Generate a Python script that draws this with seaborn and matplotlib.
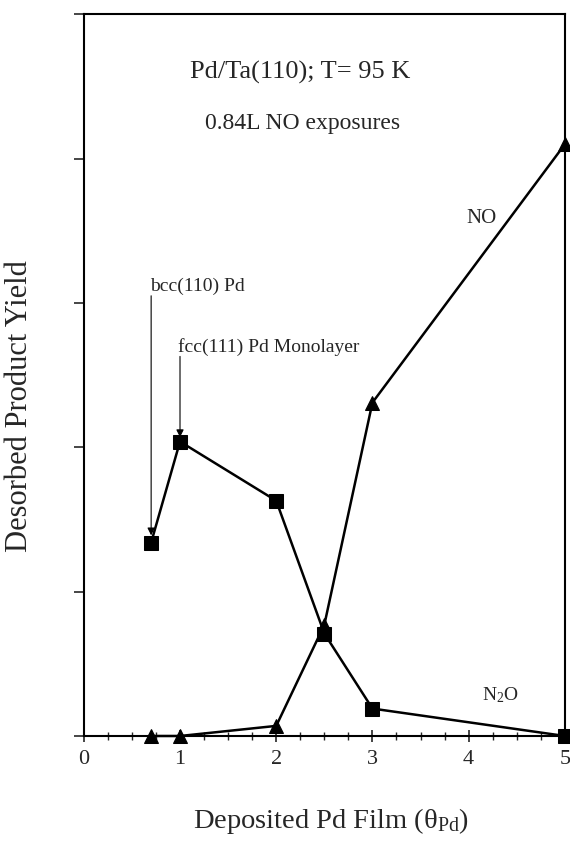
import matplotlib
matplotlib.use("Agg")
import matplotlib.pyplot as plt
from matplotlib.ticker import MultipleLocator, NullFormatter
import seaborn as sns
import pandas as pd

coverage = [0.7, 1.0, 2.0, 2.5, 3.0, 5.0]
n2o_yield = [1.34, 2.04, 1.63, 0.71, 0.19, 0.0]
no_yield = [0.0, 0.0, 0.07, 0.77, 2.31, 4.1]

df = pd.DataFrame({
    "coverage": coverage * 2,
    "yield": n2o_yield + no_yield,
    "product": ["N2O"] * len(coverage) + ["NO"] * len(coverage),
})

sns.set_style("ticks")
plt.rcParams["font.family"] = ["Liberation Serif", "DejaVu Serif"]
plt.rcParams["mathtext.fontset"] = "custom"
plt.rcParams["mathtext.rm"] = "Liberation Serif"
plt.rcParams["mathtext.it"] = "Liberation Serif:italic"

fig = plt.figure(figsize=(5.7, 8.53), dpi=100)
ax = fig.add_axes([0.147, 0.136, 0.844, 0.846])

sns.lineplot(data=df, x="coverage", y="yield", hue="product", style="product",
             markers={"N2O": "s", "NO": "^"}, dashes=False,
             palette={"N2O": "black", "NO": "black"},
             markersize=9.5, linewidth=1.8, markeredgecolor="black",
             legend=False, ax=ax)
for line in ax.lines:
    line.set_clip_on(False)

ax.set_xlim(0, 5)
ax.set_ylim(0, 5)
ax.xaxis.set_major_locator(MultipleLocator(1))
ax.xaxis.set_minor_locator(MultipleLocator(0.25))
ax.yaxis.set_major_locator(MultipleLocator(1))
ax.yaxis.set_major_formatter(NullFormatter())
ax.tick_params(axis="x", which="major", direction="inout", length=9, width=1.2,
               labelsize=16, pad=5)
ax.tick_params(axis="x", which="minor", direction="inout", length=6, width=1.0)
ax.tick_params(axis="y", which="major", direction="out", length=7, width=1.2)
for s in ax.spines.values():
    s.set_linewidth(1.5)
    s.set_color("black")

ax.set_xlabel("Deposited Pd Film (θ$_{\\mathrm{Pd}}$)", fontsize=20.5)
ax.set_ylabel("Desorbed Product Yield", fontsize=22)
ax.xaxis.set_label_coords(0.514, -0.095)
ax.yaxis.set_label_coords(-0.104, 0.458)

ax.text(0.449, 0.921, "Pd/Ta(110); T= 95 K", transform=ax.transAxes,
        ha="center", va="center", fontsize=19)
ax.text(0.455, 0.850, "0.84L NO exposures", transform=ax.transAxes,
        ha="center", va="center", fontsize=17)
ax.text(3.98, 3.59, "NO", ha="left", va="center", fontsize=15)
ax.text(4.14, 0.29, "N$_2$O", ha="left", va="center", fontsize=14)

ax.text(0.69, 3.09, "bcc(110) Pd", ha="left", va="baseline", fontsize=14)
ax.annotate("", xy=(0.7, 1.39), xytext=(0.7, 3.05),
            arrowprops=dict(arrowstyle="-|>", color="black", lw=0.8,
                            mutation_scale=11, shrinkA=0, shrinkB=0))
ax.text(0.98, 2.67, "fcc(111) Pd Monolayer", ha="left", va="baseline", fontsize=14)
ax.annotate("", xy=(1.0, 2.07), xytext=(1.0, 2.63),
            arrowprops=dict(arrowstyle="-|>", color="black", lw=0.8,
                            mutation_scale=11, shrinkA=0, shrinkB=0))

fig.savefig("out.png", dpi=100)
